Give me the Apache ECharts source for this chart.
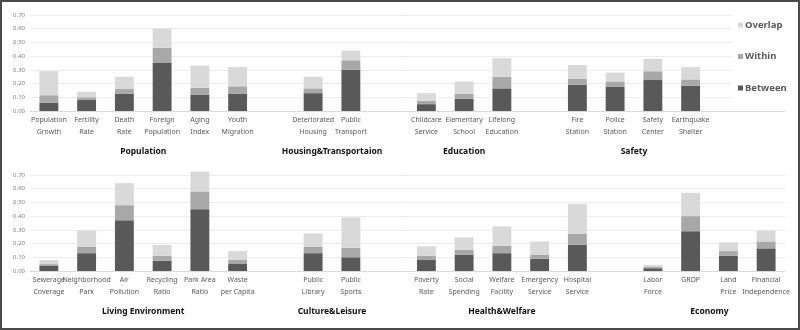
<!DOCTYPE html>
<html>
<head>
<meta charset="utf-8">
<script src="https://cdn.jsdelivr.net/npm/echarts@6/dist/echarts.min.js"></script>
<style>
html,body{margin:0;padding:0;background:#fff;}
#wrap{position:relative;width:800px;height:330px;}
#chart{width:800px;height:330px;}
#frame{position:absolute;left:0;top:0;width:800px;height:330px;box-sizing:border-box;border:2px solid #4a4a4a;pointer-events:none;}
</style>
</head>
<body>
<div id="wrap"><div id="chart"></div><div id="frame"></div></div>
<script>
// ---- data (top panel) ----
const topCategories = ['Population\nGrowth','Fertility\nRate','Death\nRate','Foreign\nPopulation','Aging\nIndex','Youth\nMigration','',
  'Deteriorated\nHousing','Public\nTransport','',
  'Childcare\nService','Elementary\nSchool','Lifelong\nEducation','',
  'Fire\nStation','Police\nStation','Safety\nCenter','Earthquake\nShelter','',''];
const topGroups = ['Population','Housing&Transportaion','Education','Safety'];
const topBetween = [0.06,0.08,0.125,0.35,0.12,0.125,null, 0.13,0.30,null, 0.05,0.09,0.165,null, 0.19,0.175,0.23,0.185,null,null];
const topWithin  = [0.055,0.02,0.035,0.11,0.05,0.055,null, 0.035,0.07,null, 0.025,0.035,0.085,null, 0.045,0.04,0.06,0.045,null,null];
const topOverlap = [0.175,0.04,0.09,0.14,0.16,0.14,null, 0.085,0.07,null, 0.055,0.09,0.135,null, 0.10,0.065,0.09,0.09,null,null];

// ---- data (bottom panel) ----
const botCategories = ['Sewerage\nCoverage','Neighborhood\nPark','Air\nPollution','Recycling\nRatio','Park Area\nRatio','Waste\nper Capita','',
  'Public\nLibrary','Public\nSports','',
  'Poverty\nRate','Social\nSpending','Welfare\nFacility','Emergency\nService','Hospital\nService','',
  'Labor\nForce','GRDP','Land\nPrice','Financial\nIndependence'];
const botGroups = ['Living Environment','Culture&Leisure','Health&Welfare','Economy'];
const botBetween = [0.04,0.13,0.37,0.075,0.45,0.055,null, 0.13,0.10,null, 0.08,0.12,0.13,0.09,0.19,null, 0.02,0.29,0.11,0.165];
const botWithin  = [0.01,0.045,0.11,0.035,0.13,0.025,null, 0.045,0.07,null, 0.03,0.035,0.055,0.03,0.08,null, 0.01,0.11,0.035,0.05];
const botOverlap = [0.03,0.12,0.16,0.08,0.145,0.065,null, 0.10,0.22,null, 0.07,0.09,0.14,0.095,0.22,null, 0.015,0.17,0.065,0.08];

const yTicks = [0,0.1,0.2,0.3,0.4,0.5,0.6,0.7];
const seriesNames = ['Between','Within','Overlap'];

// ---- build ----
const COLORS = {Between:'#595959', Within:'#a8a8a8', Overlap:'#d9d9d9'};
const FONT = 'Noto Sans';

function groupCenters(cats, names){
  const map = {}; let start = null; let gi = 0;
  for (let i = 0; i <= cats.length; i++){
    const c = i < cats.length ? cats[i] : '';
    if (c !== '' && start === null) start = i;
    if (c === '' && start !== null){ map[(start + i)] = names[gi++]; start = null; }
  }
  return map; // keyed by 2*center
}
const topMap = groupCenters(topCategories, topGroups);
const botMap = groupCenters(botCategories, botGroups);

function catAxis(gi, cats){
  return {type:'category', gridIndex:gi, data:cats,
    axisLine:{lineStyle:{color:'#d9d9d9'}}, axisTick:{show:false},
    axisLabel:{interval:0, color:'#595959', fontFamily:FONT, fontSize:7, lineHeight:12, margin:3}};
}
function groupAxis(gi, map, n){
  return {type:'value', gridIndex:gi, min:0, max:n, interval:0.5, position:'bottom',
    axisLine:{show:false}, axisTick:{show:false}, splitLine:{show:false},
    axisLabel:{showMinLabel:true, showMaxLabel:true, color:'#111', fontFamily:FONT, fontWeight:'bold', fontSize:8.5, margin:36,
      formatter:v => map[Math.round(v*2)] || ''}};
}
function valAxis(gi){
  return {type:'value', gridIndex:gi, min:yTicks[0], max:yTicks[yTicks.length-1], interval:0.1,
    axisLine:{show:false}, axisTick:{show:false},
    splitLine:{lineStyle:{color:'#ececec', width:1}},
    axisLabel:{color:'#7f7f7f', fontFamily:FONT, fontSize:6, margin:5, formatter:v=>v.toFixed(2)}};
}
function bars(gi, arrs){
  return seriesNames.map((n, k) => ({
    name:n, type:'bar', stack:'s'+gi, xAxisIndex:gi*2, yAxisIndex:gi, barWidth:'50%', clip:false,
    itemStyle:{color:COLORS[n]}, data:arrs[k], animation:false
  }));
}

const chart = echarts.init(document.getElementById('chart'), null, {renderer:'canvas'});
chart.setOption({
  animation:false,
  grid:[{left:30, right:15, top:15, height:96},{left:30, right:15, top:175, height:96}],
  xAxis:[catAxis(0, topCategories), groupAxis(0, topMap, topCategories.length), catAxis(1, botCategories), groupAxis(1, botMap, botCategories.length)],
  yAxis:[valAxis(0), valAxis(1)],
  legend:{orient:'vertical', left:732, top:13, itemGap:21.5, itemWidth:5, itemHeight:5,
    icon:'rect', backgroundColor:'#fff', padding:[7,12,8,6],
    data:['Overlap','Within','Between'],
    textStyle:{color:'#595959', fontFamily:FONT, fontSize:9.5, fontWeight:'bold', padding:[0,0,0,-3]}},
  series:[...bars(0,[topBetween,topWithin,topOverlap]), ...bars(1,[botBetween,botWithin,botOverlap])]
});
</script>
</body>
</html>
